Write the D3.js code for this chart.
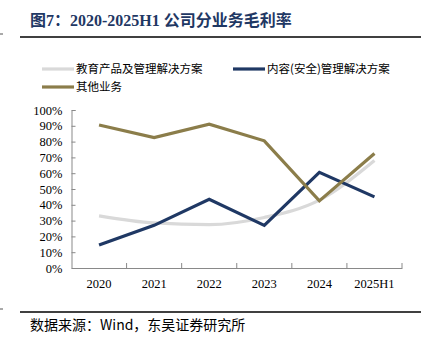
<!DOCTYPE html>
<html>
<head>
<meta charset="utf-8">
<script src="https://cdn.jsdelivr.net/npm/d3@7"></script>
<style>
  body { margin: 0; background: #fff; }
</style>
</head>
<body>
<script>
const years = ['2020', '2021', '2022', '2023', '2024', '2025H1']
const names = ['教育产品及管理解决方案', '内容(安全)管理解决方案', '其他业务']
const edu = [33, 28.5, 27.5, 32, 43, 68]
const content = [14.5, 27, 43.5, 27, 60.5, 45]
const other = [90.5, 82.5, 91, 80.5, 42.5, 72.5]
const yTicks = [0, 10, 20, 30, 40, 50, 60, 70, 80, 90, 100]
const colors = ['#d9d9d9', '#1f3864', '#8b7d4a']

const w = 425
const h = 337
const cjk = '"Noto Sans CJK SC", sans-serif'
const serif = '"Liberation Serif", "Times New Roman", serif'

const svg = d3.select('body')
    .append('svg')
    .attr('width', w)
    .attr('height', h)

// title
svg.append('text')
    .attr('x', 30)
    .attr('y', 26)
    .style('font-family', serif + ',' + cjk)
    .style('font-weight', 'bold')
    .style('font-size', '16px')
    .style('fill', '#1f3864')
    .text('图7：2020-2025H1 公司分业务毛利率')

svg.append('line').attr('x1', 20).attr('x2', 421).attr('y1', 37).attr('y2', 37)
    .style('stroke', '#000').style('stroke-width', 1.5)
svg.append('line').attr('x1', 20).attr('x2', 421).attr('y1', 312).attr('y2', 312)
    .style('stroke', '#000').style('stroke-width', 1.5)
svg.append('line').attr('x1', 0).attr('x2', 3).attr('y1', 34).attr('y2', 34)
    .style('stroke', '#555').style('stroke-width', 1)
svg.append('line').attr('x1', 0).attr('x2', 3).attr('y1', 309).attr('y2', 309)
    .style('stroke', '#555').style('stroke-width', 1)

// source
svg.append('text')
    .attr('x', 30)
    .attr('y', 330)
    .style('font-family', cjk)
    .style('font-size', '14px')
    .style('fill', '#000')
    .text('数据来源：Wind，东吴证券研究所')

// scales
const x = d3.scaleBand().domain(years).range([71.5, 402])
const y = d3.scaleLinear().domain([0, 100]).range([268, 110])

// axes
const yAxis = svg.append('g')
    .attr('transform', 'translate(71.5,0)')
    .call(d3.axisLeft(y).tickValues(yTicks).tickSize(-4).tickPadding(9).tickFormat(d => d + '%'))
const xAxis = svg.append('g')
    .attr('transform', 'translate(0,268)')
    .call(d3.axisBottom(x).tickSize(0).tickPadding(11))

;[yAxis, xAxis].forEach(g => {
    g.select('.domain').style('stroke', '#898989')
    g.selectAll('.tick line').style('stroke', '#898989')
    g.selectAll('text')
        .style('font-family', serif)
        .style('font-size', '12.5px')
        .style('fill', '#000')
})

// x ticks at band edges
svg.append('g').selectAll('line')
    .data(years.slice(1).concat(['end']))
    .enter()
    .append('line')
    .attr('x1', (d, i) => i < years.length - 1 ? x(d) : x.range()[1])
    .attr('x2', (d, i) => i < years.length - 1 ? x(d) : x.range()[1])
    .attr('y1', 268)
    .attr('y2', 263)
    .style('stroke', '#898989')

// lines
const series = [edu, content, other]
const curves = [d3.curveMonotoneX, d3.curveLinear, d3.curveLinear]
series.forEach((s, i) => {
    const line = d3.line()
        .x((d, j) => x(years[j]) + x.bandwidth() / 2)
        .y(d => y(d))
        .curve(curves[i])
    svg.append('path')
        .datum(s)
        .attr('d', line)
        .style('fill', 'none')
        .style('stroke', colors[i])
        .style('stroke-width', 3.2)
})

// legend
const legendPos = [[42, 69], [233, 69], [42, 87]]
names.forEach((n, i) => {
    const g = svg.append('g').attr('transform', 'translate(' + legendPos[i][0] + ',' + legendPos[i][1] + ')')
    g.append('line').attr('x1', 0).attr('x2', 32).attr('y1', 0).attr('y2', 0)
        .style('stroke', colors[i]).style('stroke-width', 3.2)
    g.append('text')
        .attr('x', 34)
        .attr('y', 4)
        .style('font-family', cjk)
        .style('font-size', '11.5px')
        .style('fill', '#000')
        .text(n)
})
</script>
</body>
</html>
